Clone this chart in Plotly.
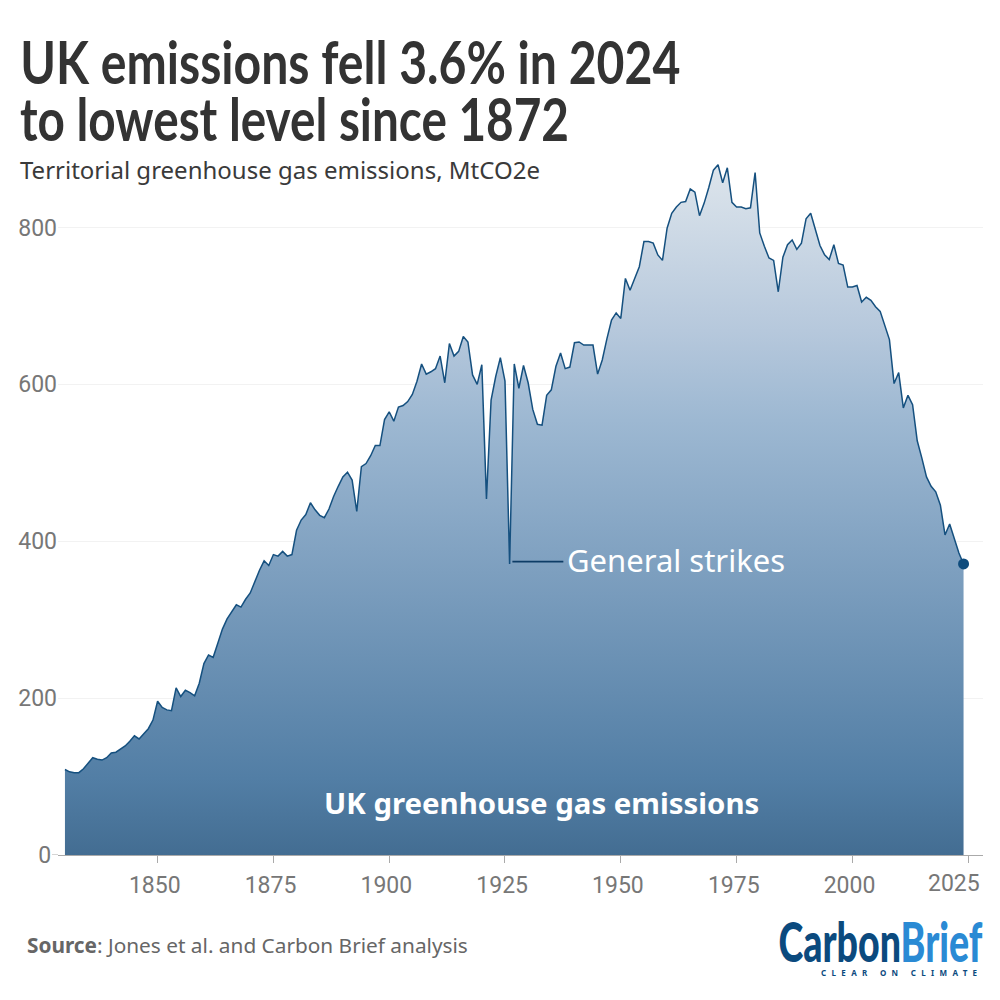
import json

import plotly.graph_objects as go

START_YEAR = 1830

# yearly emissions, MtCO2e, 1830-2024
emissions = [
    109, 106, 105, 105, 110, 117, 124, 122, 121, 124,
    130, 131, 135, 139, 145, 152, 148, 154, 161, 172,
    196, 188, 185, 184, 213, 202, 210, 207, 203, 219,
    244, 255, 252, 270, 288, 301, 310, 319, 316, 326,
    334, 349, 363, 375, 369, 383, 381, 387, 381, 383,
    414, 427, 434, 449, 440, 433, 430, 441, 457, 470,
    482, 488, 478, 438, 495, 499, 509, 522, 522, 555,
    565, 553, 571, 573, 578, 587, 604, 626, 613, 616,
    620, 636, 602, 652, 636, 642, 661, 654, 612, 600,
    625, 454, 580, 610, 634, 604, 371, 626, 595, 624,
    602, 568, 549, 548, 586, 593, 623, 640, 620, 622,
    653, 654, 650, 650, 650, 613, 631, 658, 682, 691,
    684, 735, 720, 735, 750, 782, 782, 780, 765, 758,
    799, 818, 826, 832, 833, 849, 845, 815, 831, 851,
    873, 880, 857, 876, 832, 826, 826, 824, 825, 870,
    793, 776, 761, 758, 718, 762, 778, 784, 772, 780,
    811, 818, 797, 777, 765, 759, 778, 754, 752, 724,
    724, 726, 705, 711, 707, 699, 693, 676, 657, 601,
    615, 570, 586, 574, 528, 506, 482, 470, 463, 446,
    408, 422, 404, 385, 371,
]
years = [START_YEAR + i for i in range(len(emissions))]

x_ticks = [1850, 1875, 1900, 1925, 1950, 1975, 2000, 2025]
y_ticks = [0, 200, 400, 600, 800]

# trailing nbsp nudges the labels to the left of their ticks, like the original
# 2025 sits well left of its tick so it goes in as its own text further down
x_tick_labels = ["1850\u00a0", "1875\u00a0", "1900\u00a0", "1925\u00a0", "1950\u00a0", "1975\u00a0", "2000\u00a0", ""]
y_tick_labels = ["0\u00a0", "200", "400", "600", "800"]
LAST_TICK_LABEL = "2025"

strike_x = [1926.6, 1937.6]
strike_y = [374, 374]

TITLE_1 = "UK emissions fell 3.6% in 2024"
TITLE_2 = "to lowest level since 1872"
SUBTITLE = "Territorial greenhouse gas emissions, MtCO2e"
SOURCE = "<b>Source</b>: Jones et al. and Carbon Brief analysis"
LOGO = '<span style="color:#0b4a7e">Carbon</span><span style="color:#2a8ad4">Brief</span>'
TAGLINE = "CLEAR ON CLIMATE"
NAVY = "#15507f"
GREY = "#777777"

W, H = 1000, 1000
L, R, T, B = 58, 17, 149, 145

fig = go.Figure()

fig.add_trace(go.Scatter(
    x=years,
    y=emissions,
    mode="lines",
    line=dict(color=NAVY, width=1.5),
    fill="tozeroy",
    fillgradient=dict(
        type="vertical",
        colorscale=[
            [0, "#436d92"],
            [0.11, "#527ea5"],
            [0.41, "#7d9fbf"],
            [0.63, "#9db8d2"],
            [0.76, "#b6c8dc"],
            [1, "#dde5ec"],
        ],
    ),
    hoverinfo="skip",
))

# last year marker
fig.add_trace(go.Scatter(
    x=years[-1:],
    y=emissions[-1:],
    mode="markers",
    marker=dict(color="#0f4c7d", size=11),
    hoverinfo="skip",
))

# leader line for the strikes label
fig.add_trace(go.Scatter(
    x=strike_x,
    y=strike_y,
    mode="lines",
    line=dict(color="#0d3c66", width=1.6),
    hoverinfo="skip",
))

fig.add_annotation(x=1938.5, y=374, xshift=-3, yshift=2, text="General strikes", showarrow=False, xanchor="left",
                   font=dict(family="Noto Sans", size=31, color="white"))
fig.add_annotation(x=1932.8, y=66, text="UK greenhouse gas emissions", showarrow=False,
                   font=dict(family="Noto Sans", size=29.4, color="white", weight=700))


def add_text(x_px, y_px, text, size, color, family="Noto Sans", weight=400, xanchor="center"):
    """Place text by picture pixels, outside of the plot area"""
    fig.add_annotation(
        x=(x_px - L) / (W - L - R),
        y=1 - (y_px - T) / (H - T - B),
        xref="paper",
        yref="paper",
        text=text,
        showarrow=False,
        xanchor=xanchor,
        yanchor="middle",
        font=dict(family=family, size=size, color=color, weight=weight),
    )


add_text(350, 61, TITLE_1, 60, "#333333", family="Lato", weight=700)
add_text(294.5, 118.5, TITLE_2, 60, "#333333", family="Lato", weight=700)
add_text(280, 169.5, SUBTITLE, 24, "#3a3a3a")
add_text(25, 945, SOURCE, 20.8, "#666666", xanchor="left")
add_text(880, 941, LOGO, 55, "#0b4a7e", family="Lato", weight=900)
add_text(899, 972, TAGLINE, 8, "#0b4a7e", weight=700)
add_text(954, 884, LAST_TICK_LABEL, 23, GREY, family="Roboto")

# short tick on the zero line only
fig.add_shape(type="line", xref="paper", yref="y", x0=-6 / (W - L - R), x1=0, y0=0, y1=0,
              line=dict(color="#aaaaaa", width=1))

fig.update_xaxes(
    range=[1828.5, 2028.2],
    tickvals=x_ticks,
    ticktext=x_tick_labels,
    ticks="outside",
    ticklen=7,
    tickcolor="#aaaaaa",
    ticklabelstandoff=2,
    showgrid=False,
    showline=True,
    linecolor="#aaaaaa",
    zeroline=False,
    tickfont=dict(family="Roboto", size=23, color=GREY),
)
fig.update_yaxes(
    range=[0, 900],
    tickvals=y_ticks,
    ticktext=y_tick_labels,
    ticks="",
    gridcolor="#f2f2f2",
    zeroline=False,
    showline=False,
    tickfont=dict(family="Roboto", size=23, color=GREY),
)
fig.update_layout(
    width=W,
    height=H,
    margin=dict(l=L, r=R, t=T, b=B, autoexpand=False),
    showlegend=False,
    plot_bgcolor="white",
    paper_bgcolor="white",
)

# no narrow fonts installed, so the headline and logo are fitted to their original widths
glyph_widths = {TITLE_1: 660, TITLE_2: 549, SUBTITLE: 520, "CarbonBrief": 204}
spacing_widths = {TAGLINE: 156}

post_script = """
document.body.style.margin = '0';
var glyphWidths = %s, spacingWidths = %s;
document.querySelectorAll('.annotation-text').forEach(function (t) {
    var s = t.textContent;
    if (glyphWidths[s]) {
        t.setAttribute('textLength', glyphWidths[s]);
        t.setAttribute('lengthAdjust', 'spacingAndGlyphs');
    } else if (spacingWidths[s]) {
        t.setAttribute('textLength', spacingWidths[s]);
        t.setAttribute('lengthAdjust', 'spacing');
    }
});
""" % (json.dumps(glyph_widths), json.dumps(spacing_widths))

fig.write_html("out.html", config={"displayModeBar": False}, post_script=post_script)
